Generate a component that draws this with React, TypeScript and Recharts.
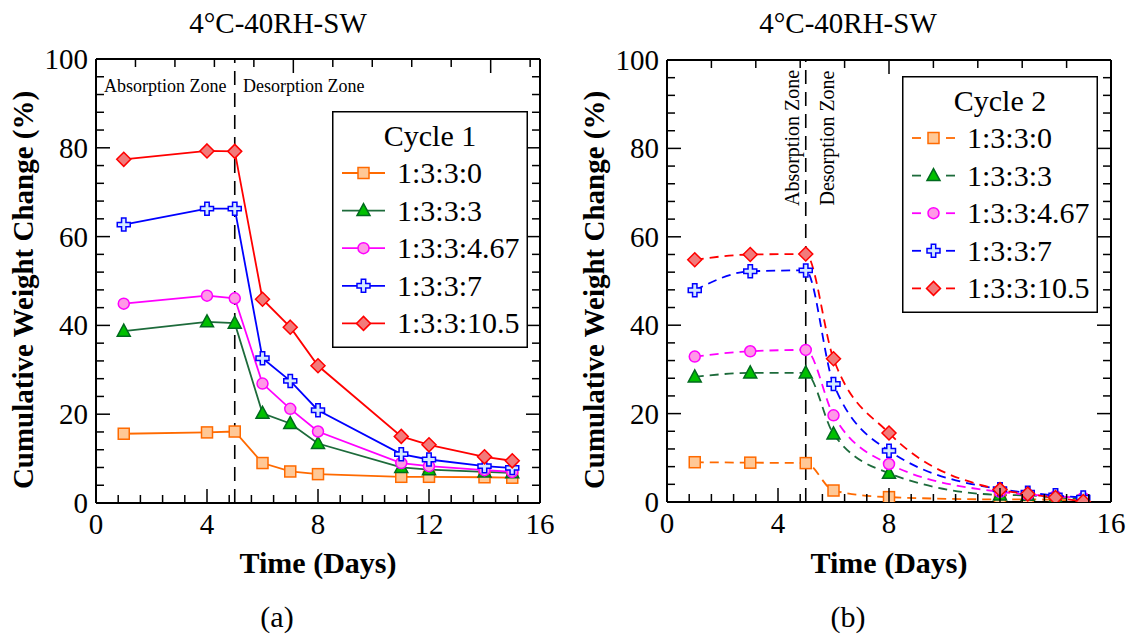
import { LineChart, Line, XAxis, YAxis, ReferenceLine, Legend } from "recharts";

const SERIF = '"Liberation Serif", "Times New Roman", Times, serif';

// cycle 1 (panel a)
const DAYS_C1 = [1, 4, 5, 6, 7, 8, 11, 12, 14, 15];
const C1_0 = [15.6, 15.9, 16.1, 9.0, 7.1, 6.5, 5.9, 5.9, 5.8, 5.7];
const C1_3 = [38.7, 40.8, 40.5, 20.2, 17.9, 13.4, 8.0, 7.5, 7.0, 6.8];
const C1_467 = [44.9, 46.7, 46.1, 26.9, 21.2, 16.1, 9.0, 8.3, 7.4, 7.0];
const C1_7 = [62.7, 66.3, 66.3, 32.6, 27.5, 20.9, 11.0, 9.8, 8.3, 7.9];
const C1_105 = [77.4, 79.3, 79.2, 45.9, 39.6, 30.9, 15.0, 13.1, 10.4, 9.5];

// cycle 2 (panel b)
const DAYS_C2 = [1, 3, 5, 6, 8, 12, 13, 14, 15];
const C2_0 = [9.0, 8.9, 8.8, 2.6, 1.1, 0.6, 0.6, 0.5, 0.3];
const C2_3 = [28.3, 29.2, 29.2, 15.4, 6.5, 1.6, 1.5, 1.0, 0.7];
const C2_467 = [32.9, 34.1, 34.4, 19.6, 8.6, 2.3, 1.7, 1.3, 0.9];
const C2_7 = [47.9, 52.2, 52.4, 26.7, 11.6, 2.9, 2.1, 1.5, 1.0];
const C2_105 = [54.8, 56.0, 56.1, 32.4, 15.6, 2.8, 1.8, 1.0, 0.1];

const SERIES_NAMES = ["1:3:3:0", "1:3:3:3", "1:3:3:4.67", "1:3:3:7", "1:3:3:10.5"];

const X_TICKS = [0, 0.8, 1.6, 2.4, 3.2, 4, 4.8, 5.6, 6.4, 7.2, 8, 8.8, 9.6, 10.4, 11.2, 12, 12.8, 13.6, 14.4, 15.2, 16];
const Y_TICKS = [0, 4, 8, 12, 16, 20, 24, 28, 32, 36, 40, 44, 48, 52, 56, 60, 64, 68, 72, 76, 80, 84, 88, 92, 96, 100];

type Kind = "square" | "triangle" | "circle" | "plus" | "diamond";

const STYLES: { key: string; kind: Kind; line: string; fill: string; edge: string }[] = [
  { key: "s0", kind: "square", line: "#ff6a00", fill: "#ffc896", edge: "#ff6a00" },
  { key: "s3", kind: "triangle", line: "#1d6b3b", fill: "#00c000", edge: "#006a1e" },
  { key: "s467", kind: "circle", line: "#ff00ff", fill: "#ff99e6", edge: "#ff00ff" },
  { key: "s7", kind: "plus", line: "#0000ff", fill: "#d4eaff", edge: "#0000ff" },
  { key: "s105", kind: "diamond", line: "#ff0000", fill: "#f27a7a", edge: "#ff0000" },
];

function buildRows(days: number[], cols: number[][]) {
  return days.map((d, i) => {
    const row: Record<string, number> = { day: d };
    STYLES.forEach((s, j) => (row[s.key] = cols[j][i]));
    return row;
  });
}

const ROWS_C1 = buildRows(DAYS_C1, [C1_0, C1_3, C1_467, C1_7, C1_105]);
const ROWS_C2 = buildRows(DAYS_C2, [C2_0, C2_3, C2_467, C2_7, C2_105]);

function Marker({ kind, cx, cy, fill, edge }: { kind: Kind; cx: number; cy: number; fill: string; edge: string }) {
  const sw = 1.5;
  if (kind === "square")
    return <rect x={cx - 5.5} y={cy - 5.5} width={11} height={11} fill={fill} stroke={edge} strokeWidth={sw} />;
  if (kind === "triangle")
    return (
      <polygon
        points={`${cx},${cy - 7} ${cx + 6.5},${cy + 5} ${cx - 6.5},${cy + 5}`}
        fill={fill}
        stroke={edge}
        strokeWidth={sw}
      />
    );
  if (kind === "circle") return <circle cx={cx} cy={cy} r={5.5} fill={fill} stroke={edge} strokeWidth={sw} />;
  if (kind === "diamond")
    return (
      <polygon
        points={`${cx},${cy - 7} ${cx + 7},${cy} ${cx},${cy + 7} ${cx - 7},${cy}`}
        fill={fill}
        stroke={edge}
        strokeWidth={sw}
      />
    );
  const s = 6.5;
  const w = 2.2;
  const pts = [
    [-w, -s], [w, -s], [w, -w], [s, -w], [s, w], [w, w],
    [w, s], [-w, s], [-w, w], [-s, w], [-s, -w], [-w, -w],
  ]
    .map(([a, b]) => `${cx + a},${cy + b}`)
    .join(" ");
  return <polygon points={pts} fill={fill} stroke={edge} strokeWidth={sw} />;
}

const isMajorX = (v: number) => Number.isInteger(v) && v % 4 === 0;
const isMajorY = (v: number) => v % 20 === 0;

function BottomTick(p: any) {
  const v = p.payload.value;
  const major = isMajorX(v);
  return (
    <g>
      <line x1={p.x} x2={p.x} y1={p.y} y2={p.y - (major ? 14 : 8)} stroke="#000" strokeWidth={1.5} />
      {major && (
        <text x={p.x} y={p.y + 31} textAnchor="middle" fontFamily={SERIF} fontSize={29} fill="#000">
          {v}
        </text>
      )}
    </g>
  );
}

function TopTick(p: any) {
  const major = isMajorX(p.payload.value);
  return <line x1={p.x} x2={p.x} y1={p.y} y2={p.y + (major ? 14 : 8)} stroke="#000" strokeWidth={1.5} />;
}

function LeftTick(p: any) {
  const v = p.payload.value;
  const major = isMajorY(v);
  return (
    <g>
      <line x1={p.x} x2={p.x + (major ? 14 : 8)} y1={p.y} y2={p.y} stroke="#000" strokeWidth={1.5} />
      {major && (
        <text x={p.x - 8} y={p.y + 10} textAnchor="end" fontFamily={SERIF} fontSize={29} fill="#000">
          {v}
        </text>
      )}
    </g>
  );
}

function RightTick(p: any) {
  const major = isMajorY(p.payload.value);
  return <line x1={p.x} x2={p.x - (major ? 14 : 8)} y1={p.y} y2={p.y} stroke="#000" strokeWidth={1.5} />;
}

function LegendBox({ title, dashed }: { title: string; dashed: boolean }) {
  return (
    <svg width={196} height={237} style={{ display: "block" }}>
      <rect x={0.75} y={0.75} width={194.5} height={235.5} fill="#fff" stroke="#000" strokeWidth={1.5} />
      <text x={98} y={35} textAnchor="middle" fontFamily={SERIF} fontSize={30} fill="#000">
        {title}
      </text>
      {STYLES.map((s, i) => {
        const base = 72 + i * 37.6;
        const ly = base - 10;
        return (
          <g key={s.key}>
            {dashed ? (
              <>
                <line x1={10} x2={19} y1={ly} y2={ly} stroke={s.line} strokeWidth={1.8} />
                <line x1={44} x2={53} y1={ly} y2={ly} stroke={s.line} strokeWidth={1.8} />
              </>
            ) : (
              <line x1={10} x2={53} y1={ly} y2={ly} stroke={s.line} strokeWidth={1.8} />
            )}
            <Marker kind={s.kind} cx={31.5} cy={ly} fill={s.fill} edge={s.edge} />
            <text x={65} y={base} fontFamily={SERIF} fontSize={30} fill="#000">
              {SERIES_NAMES[i]}
            </text>
          </g>
        );
      })}
    </svg>
  );
}

const AXIS_LINE = { stroke: "#000", strokeWidth: 2 };

function Panel({
  rows,
  left,
  margin,
  dashed,
  title,
  legendPos,
}: {
  rows: Record<string, number>[];
  left: number;
  margin: { top: number; right: number; bottom: number; left: number };
  dashed: boolean;
  title: string;
  legendPos: { left: number; top: number };
}) {
  return (
    <div style={{ position: "absolute", left, top: 0 }}>
      <LineChart width={566} height={637} data={rows} margin={margin}>
        <XAxis
          xAxisId="x"
          dataKey="day"
          type="number"
          domain={[0, 16]}
          ticks={X_TICKS}
          interval={0}
          tickSize={0}
          tickMargin={0}
          tickLine={false}
          axisLine={AXIS_LINE}
          tick={(p: any) => <BottomTick {...p} />}
          height={40}
          allowDataOverflow
        />
        <XAxis
          xAxisId="xt"
          orientation="top"
          type="number"
          domain={[0, 16]}
          ticks={X_TICKS}
          interval={0}
          tickSize={0}
          tickMargin={0}
          tickLine={false}
          axisLine={AXIS_LINE}
          tick={(p: any) => <TopTick {...p} />}
          height={10}
          allowDataOverflow
        />
        <YAxis
          yAxisId="y"
          type="number"
          domain={[0, 100]}
          ticks={Y_TICKS}
          interval={0}
          tickSize={0}
          tickMargin={0}
          tickLine={false}
          axisLine={AXIS_LINE}
          tick={(p: any) => <LeftTick {...p} />}
          width={60}
          allowDataOverflow
        />
        <YAxis
          yAxisId="yr"
          orientation="right"
          type="number"
          domain={[0, 100]}
          ticks={Y_TICKS}
          interval={0}
          tickSize={0}
          tickMargin={0}
          tickLine={false}
          axisLine={AXIS_LINE}
          tick={(p: any) => <RightTick {...p} />}
          width={10}
          allowDataOverflow
        />
        <ReferenceLine xAxisId="x" yAxisId="y" x={5} stroke="#000" strokeWidth={1.6} strokeDasharray="14 8" />
        {STYLES.map((s) => (
          <Line
            key={s.key}
            xAxisId="x"
            yAxisId="y"
            dataKey={s.key}
            type={dashed ? "monotone" : "linear"}
            stroke={s.line}
            strokeWidth={1.8}
            strokeDasharray={dashed ? "9 6" : undefined}
            dot={(p: any) => (
              <Marker key={`${s.key}-${p.index}`} kind={s.kind} cx={p.cx} cy={p.cy} fill={s.fill} edge={s.edge} />
            )}
            isAnimationActive={false}
          />
        ))}
        <Legend
          layout="vertical"
          align="center"
          verticalAlign="middle"
          wrapperStyle={{ left: legendPos.left, top: legendPos.top, width: 196, height: 237 }}
          content={() => <LegendBox title={title} dashed={dashed} />}
        />
      </LineChart>
    </div>
  );
}

export default function App() {
  const txt = { fontFamily: SERIF, fill: "#000" };
  return (
    <div style={{ position: "absolute", left: 0, top: 0, width: 1133, height: 637, background: "#fff" }}>
      <Panel
        rows={ROWS_C1}
        left={0}
        margin={{ top: 49, right: 16, bottom: 94, left: 36 }}
        dashed={false}
        title="Cycle 1"
        legendPos={{ left: 332, top: 111 }}
      />
      <Panel
        rows={ROWS_C2}
        left={566}
        margin={{ top: 50, right: 11, bottom: 95, left: 41 }}
        dashed={true}
        title="Cycle 2"
        legendPos={{ left: 336, top: 76 }}
      />
      <svg
        width={1133}
        height={637}
        style={{ position: "absolute", left: 0, top: 0, pointerEvents: "none" }}
      >
        <text x={278} y={33} textAnchor="middle" fontSize={29} {...txt}>4°C-40RH-SW</text>
        <text x={848} y={33} textAnchor="middle" fontSize={29} {...txt}>4°C-40RH-SW</text>

        <text transform="translate(33,290) rotate(-90)" textAnchor="middle" fontSize={29} fontWeight="bold" {...txt}>
          Cumulative Weight Change (%)
        </text>
        <text transform="translate(604,290) rotate(-90)" textAnchor="middle" fontSize={29} fontWeight="bold" {...txt}>
          Cumulative Weight Change (%)
        </text>

        <text x={318} y={573} textAnchor="middle" fontSize={30} fontWeight="bold" {...txt}>Time (Days)</text>
        <text x={889} y={573} textAnchor="middle" fontSize={30} fontWeight="bold" {...txt}>Time (Days)</text>

        <text x={277} y={627} textAnchor="middle" fontSize={30} {...txt}>(a)</text>
        <text x={848} y={627} textAnchor="middle" fontSize={30} {...txt}>(b)</text>

        <text x={104} y={92} fontSize={18} {...txt}>Absorption Zone</text>
        <text x={243} y={92} fontSize={18} {...txt}>Desorption Zone</text>

        <text transform="translate(799,138) rotate(-90)" textAnchor="middle" fontSize={20} {...txt}>Absorption Zone</text>
        <text transform="translate(834,138) rotate(-90)" textAnchor="middle" fontSize={20} {...txt}>Desorption Zone</text>
      </svg>
    </div>
  );
}
